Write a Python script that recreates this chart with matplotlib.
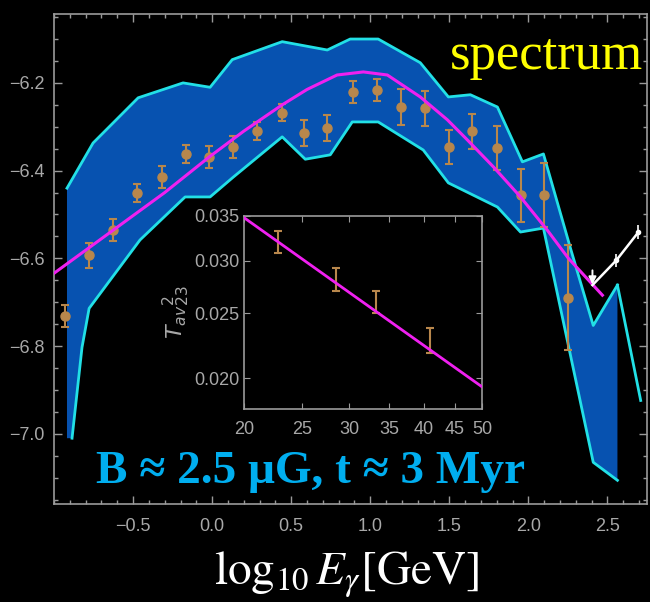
import numpy as np
import matplotlib.pyplot as plt
from matplotlib.ticker import MultipleLocator, FixedLocator, NullFormatter, NullLocator

# gamma-ray spectrum points: log10 E, value, error
pt_x = [-0.93, -0.78, -0.627, -0.473, -0.317, -0.165, -0.019, 0.133, 0.285, 0.443,
        0.582, 0.728, 0.892, 1.044, 1.196, 1.348, 1.50, 1.646, 1.804, 1.956, 2.10, 2.253]
pt_y = [-6.732, -6.593, -6.536, -6.451, -6.415, -6.362, -6.369, -6.346, -6.31, -6.268,
        -6.314, -6.303, -6.22, -6.216, -6.255, -6.258, -6.346, -6.31, -6.349, -6.456, -6.456, -6.69]
pt_err = [0.025, 0.028, 0.025, 0.02, 0.025, 0.02, 0.025, 0.025, 0.02, 0.02,
          0.03, 0.03, 0.025, 0.025, 0.04, 0.04, 0.038, 0.04, 0.05, 0.06, 0.073, 0.12]

# upper limits (white)
ul_x = [2.405, 2.557, 2.696]
ul_y = [-6.661, -6.604, -6.540]

# model curve
mod_x = [-1.0, -0.627, -0.3, -0.019, 0.2, 0.443, 0.6, 0.79, 0.956, 1.108, 1.316, 1.487,
         1.614, 1.78, 1.95, 2.12, 2.253, 2.468]
mod_y = [-6.634, -6.536, -6.45, -6.369, -6.31, -6.25, -6.215, -6.182, -6.175, -6.182, -6.232,
         -6.284, -6.33, -6.392, -6.46, -6.536, -6.6, -6.684]

# band edges
up_x = [-0.918, -0.753, -0.468, -0.184, -0.013, 0.127, 0.443, 0.728, 0.873, 1.05, 1.316,
        1.494, 1.633, 1.804, 1.962, 2.095, 2.266, 2.41, 2.563]
up_y = [-6.44, -6.337, -6.234, -6.2, -6.21, -6.147, -6.106, -6.125, -6.1, -6.1, -6.154,
        -6.232, -6.227, -6.255, -6.38, -6.362, -6.577, -6.753, -6.661]
lo_x = [-0.918, -0.886, -0.823, -0.778, -0.646, -0.456, -0.171, -0.013, 0.133, 0.443, 0.589,
        0.747, 0.886, 1.05, 1.335, 1.494, 1.804, 1.95, 2.095, 2.41, 2.563]
lo_y = [-7.01, -7.01, -6.803, -6.714, -6.65, -6.558, -6.46, -6.46, -6.415, -6.323, -6.374,
        -6.364, -6.289, -6.289, -6.353, -6.428, -6.483, -6.54, -6.531, -7.065, -7.106]
tail_x = [2.563, 2.71]
tail_y = [-6.661, -6.924]

# inset data
in_x = [22.8, 28.5, 33.3, 41.0]
in_lo = [0.0308, 0.0270, 0.0250, 0.0218]
in_hi = [0.0332, 0.02925, 0.0270, 0.02377]
in_line_x = [20, 50]
in_line_y = [0.0348, 0.0194]

grey = '#9a9a9a'
tick_col = '#a8a8a8'
tick_font = ['Liberation Sans Narrow', 'Liberation Sans']

plt.rcParams['mathtext.fontset'] = 'stix'
fig = plt.figure(figsize=(6.5, 6.02), dpi=100, facecolor='black')
ax = fig.add_axes([0.0831, 0.1628, 0.9123, 0.8139], facecolor='black')

poly_x = up_x + lo_x[::-1]
poly_y = up_y + lo_y[::-1]
ax.fill(poly_x, poly_y, color='#0752b0', lw=0, zorder=1)
ax.plot(up_x, up_y, color='#22e0e6', lw=2, zorder=2)
ax.plot(lo_x[1:], lo_y[1:], color='#22e0e6', lw=2, zorder=2)
ax.plot(tail_x, tail_y, color='#22e0e6', lw=2, zorder=2)

ax.errorbar(pt_x, pt_y, yerr=pt_err, fmt='o', ms=6.5, color='#b8874c', ecolor='#b8874c',
            elinewidth=1.5, capsize=3, capthick=1.5, zorder=3)
ax.plot(mod_x, mod_y, color='#f020f0', lw=2.2, zorder=4)

ax.plot(ul_x, ul_y, color='white', lw=1.8, zorder=5)
ax.plot(ul_x[1:], ul_y[1:], 'o', color='white', ms=3, zorder=5)
ax.errorbar(ul_x[1:], ul_y[1:], yerr=0.015, fmt='none', ecolor='white', elinewidth=1.2, zorder=5)
ax.annotate('', xy=(ul_x[0], ul_y[0] - 0.005), xytext=(ul_x[0], ul_y[0] + 0.04),
            arrowprops=dict(arrowstyle='-|>', color='white', lw=1.4, mutation_scale=11), zorder=5)

ax.set_xlim(-1.0, 2.75)
ax.set_ylim(-7.16, -6.043)
ax.xaxis.set_major_locator(FixedLocator([-0.5, 0.0, 0.5, 1.0, 1.5, 2.0, 2.5]))
ax.xaxis.set_minor_locator(MultipleLocator(0.1))
ax.yaxis.set_major_locator(FixedLocator([-7.0, -6.8, -6.6, -6.4, -6.2]))
ax.yaxis.set_minor_locator(MultipleLocator(0.05))
ax.tick_params(which='both', direction='in', top=True, right=True, colors=grey,
               labelcolor=tick_col, labelsize=13)
ax.tick_params(which='major', length=6, width=1)
ax.tick_params(which='minor', length=3, width=1)
ax.tick_params(axis='x', pad=10)
ax.tick_params(axis='y', pad=7)
for s in ax.spines.values():
    s.set_color(grey)
    s.set_linewidth(1.2)
ax.set_xticklabels(['\u22120.5', '0.0', '0.5', '1.0', '1.5', '2.0', '2.5'], family=tick_font)
ax.set_yticklabels(['\u22127.0', '\u22126.8', '\u22126.6', '\u22126.4', '\u22126.2'], family=tick_font)

# inset
ins = fig.add_axes([0.3754, 0.3206, 0.3662, 0.3206], facecolor='black')
ins.set_xscale('log')
ins.set_yscale('log')
ins.plot(in_line_x, in_line_y, color='#f020f0', lw=2, zorder=3)
mid = [(a + b) / 2 for a, b in zip(in_lo, in_hi)]
err = [[m - a for m, a in zip(mid, in_lo)], [b - m for m, b in zip(mid, in_hi)]]
ins.errorbar(in_x, mid, yerr=err, fmt='none', ecolor='#b8874c', elinewidth=1.5,
             capsize=3, capthick=1.5, zorder=2)
ins.set_xlim(20, 50)
ins.set_ylim(0.01797, 0.035)
ins.xaxis.set_major_locator(FixedLocator([20, 25, 30, 35, 40, 45, 50]))
ins.xaxis.set_minor_locator(NullLocator())
ins.xaxis.set_minor_formatter(NullFormatter())
ins.yaxis.set_major_locator(FixedLocator([0.020, 0.025, 0.030, 0.035]))
ins.yaxis.set_minor_locator(NullLocator())
ins.yaxis.set_minor_formatter(NullFormatter())
ins.tick_params(which='both', direction='in', top=True, right=True, colors=grey,
                labelcolor=tick_col, labelsize=13, length=4)
ins.tick_params(axis='x', pad=9)
ins.tick_params(axis='y', pad=3)
ins.set_xticklabels(['20', '25', '30', '35', '40', '45', '50'], family=tick_font)
ins.set_yticklabels(['0.020', '0.025', '0.030', '0.035'], family=tick_font)
for s in ins.spines.values():
    s.set_color(grey)
    s.set_linewidth(1.2)
ins.set_ylabel(r'$T_{av}{}^{2}_{23}$', color=tick_col, fontsize=16, labelpad=2,
               math_fontfamily='dejavusans')

# annotations
fig.text(0.692, 0.885, 'spectrum', color='#ffff00', fontsize=38, family='Liberation Serif')
fig.text(0.147, 0.198, 'B \u2248 2.5 \u03bcG, t \u2248 3 Myr', color='#00aeef', fontsize=34,
         family='Liberation Serif', weight='bold')
fig.text(0.533, 0.028, r'$\log_{10}E_{\gamma}[\mathrm{GeV}]$', color='white', fontsize=34,
         ha='center')

fig.savefig('out.png', dpi=100, facecolor='black')
